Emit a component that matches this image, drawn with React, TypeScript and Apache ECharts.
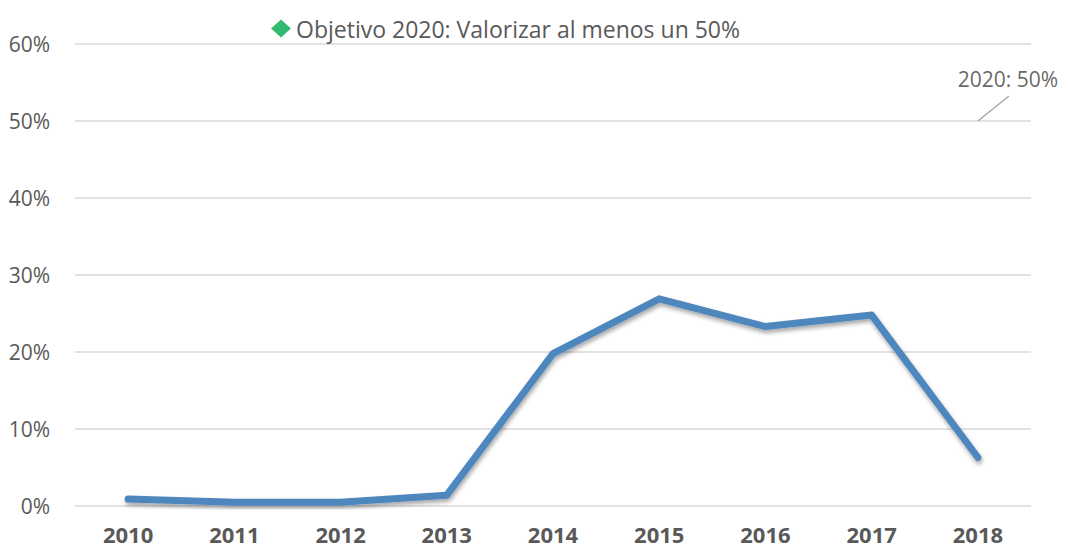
import React, { useEffect, useRef } from "react";
import * as echarts from "echarts";

const categories = ["2010", "2011", "2012", "2013", "2014", "2015", "2016", "2017", "2018"];
const values = [0.9, 0.5, 0.5, 1.4, 19.8, 26.9, 23.3, 24.8, 6.3];
const targetName = "Objetivo 2020: Valorizar al menos un 50%";
const targetValues: (number | string)[] = ["-", "-", "-", "-", "-", "-", "-", "-", 50];
const targetLabel = "2020: 50%";

export default function App() {
  const ref = useRef<HTMLDivElement>(null);
  useEffect(() => {
    if (!ref.current) return;
    const chart = echarts.init(ref.current, null, { renderer: "svg" });
    const font = "'Open Sans', 'Noto Sans', sans-serif";
    chart.setOption({
      animation: false,
      textStyle: { fontFamily: font },
      legend: {
        data: [{ name: targetName, icon: "diamond" }],
        top: 12,
        left: 266,
        itemWidth: 20,
        itemHeight: 18,
        itemGap: 4,
        textStyle: { fontSize: 23, color: "#595959", fontFamily: font },
      },
      grid: { left: 75, right: 37, top: 44, bottom: 45 },
      xAxis: {
        type: "category",
        data: categories,
        boundaryGap: true,
        axisLine: { show: false },
        axisTick: { show: false },
        axisLabel: { fontSize: 22, fontWeight: "bold", color: "#595959", margin: 17, lineHeight: 22, fontFamily: font },
      },
      yAxis: {
        type: "value",
        min: 0,
        max: 60,
        interval: 10,
        axisLabel: { formatter: (v: number) => `${v}%`, fontSize: 21, color: "#595959", margin: 25, fontFamily: font },
        splitLine: { lineStyle: { color: "#D9D9D9", width: 1.5 } },
        axisLine: { show: false },
        axisTick: { show: false },
      },
      series: [
        {
          name: "Valorización",
          type: "line",
          data: values,
          symbol: "none",
          lineStyle: {
            color: "#4E87BD",
            width: 7,
            cap: "round",
            join: "round",
            shadowColor: "rgba(0,0,0,0.35)",
            shadowBlur: 4,
            shadowOffsetY: 3,
            shadowOffsetX: 1,
          },
          itemStyle: { color: "#4E87BD" },
        },
        {
          name: targetName,
          type: "scatter",
          data: targetValues,
          symbol: "diamond",
          symbolSize: 0,
          itemStyle: { color: "#00A94F" },
          label: {
            show: true,
            formatter: targetLabel,
            position: "inside",
            offset: [30, -42],
            fontSize: 21,
            color: "#404040",
            fontFamily: font,
          },
        },
      ],
    });
    const p = chart.convertToPixel({ seriesIndex: 1 }, [8, 50]) as number[];
    if (p) {
      chart.setOption({
        graphic: [
          {
            type: "line",
            shape: { x1: p[0], y1: p[1], x2: p[0] + 31, y2: p[1] - 25 },
            style: { stroke: "#A6A6A6", lineWidth: 1.5 },
          },
        ],
      });
    }
    return () => chart.dispose();
  }, []);
  return (
    <div style={{ position: "fixed", left: 0, top: 0 }}>
      <div ref={ref} style={{ width: 1068, height: 551, background: "#fff" }} />
    </div>
  );
}
